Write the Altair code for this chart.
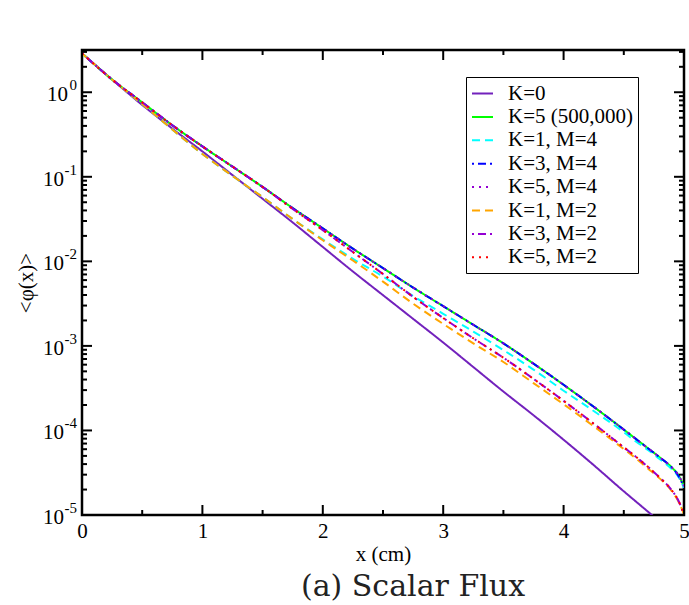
import altair as alt
import pandas as pd

# Distance through the slab (cm)
x_cm = [0, 0.25, 0.5, 0.75, 1.0, 1.25, 1.5, 1.75, 2.0, 2.25, 2.5, 2.75,
        3.0, 3.25, 3.5, 3.75, 4.0, 4.25, 4.5, 4.6, 4.7, 4.8, 4.9, 4.95, 5.0]

# log10 of the ensemble-averaged scalar flux for each closure
log_phi_k0 = [0.46, 0.15, -0.15, -0.43, -0.70, -0.98, -1.26, -1.54, -1.83, -2.12,
              -2.40, -2.68, -2.96, -3.25, -3.54, -3.82, -4.11, -4.41, -4.72, -4.84,
              -4.96, -5.08, -5.20, -5.26, -5.32]
log_phi_k5_ref = [0.46, 0.15, -0.12, -0.39, -0.64, -0.88, -1.12, -1.37, -1.61, -1.85,
                  -2.08, -2.31, -2.53, -2.75, -2.97, -3.21, -3.46, -3.72, -3.99, -4.10,
                  -4.21, -4.32, -4.44, -4.52, -4.66]
log_phi_k1_m4 = [0.46, 0.15, -0.14, -0.44, -0.73, -0.99, -1.24, -1.50, -1.74, -1.97,
                 -2.18, -2.41, -2.62, -2.83, -3.05, -3.28, -3.53, -3.77, -4.02, -4.13,
                 -4.23, -4.34, -4.46, -4.54, -4.68]
log_phi_k3_m4 = [0.46, 0.15, -0.12, -0.39, -0.64, -0.88, -1.12, -1.37, -1.61, -1.85,
                 -2.08, -2.31, -2.53, -2.75, -2.97, -3.21, -3.46, -3.72, -3.99, -4.10,
                 -4.21, -4.32, -4.44, -4.53, -4.67]
log_phi_k5_m4 = [0.46, 0.15, -0.12, -0.39, -0.64, -0.88, -1.12, -1.37, -1.61, -1.85,
                 -2.08, -2.31, -2.53, -2.75, -2.97, -3.21, -3.46, -3.72, -3.99, -4.10,
                 -4.21, -4.32, -4.44, -4.52, -4.66]
log_phi_k1_m2 = [0.46, 0.15, -0.14, -0.44, -0.73, -0.99, -1.24, -1.50, -1.75, -1.99,
                 -2.24, -2.50, -2.74, -2.97, -3.19, -3.44, -3.69, -3.95, -4.22, -4.33,
                 -4.45, -4.57, -4.72, -4.83, -4.99]
log_phi_k3_m2 = [0.46, 0.15, -0.12, -0.39, -0.64, -0.88, -1.12, -1.38, -1.63, -1.89,
                 -2.15, -2.42, -2.67, -2.91, -3.14, -3.39, -3.65, -3.92, -4.20, -4.31,
                 -4.43, -4.56, -4.71, -4.82, -4.99]
log_phi_k5_m2 = [0.46, 0.15, -0.12, -0.39, -0.64, -0.88, -1.12, -1.38, -1.63, -1.89,
                 -2.15, -2.42, -2.67, -2.91, -3.14, -3.39, -3.65, -3.92, -4.20, -4.31,
                 -4.43, -4.56, -4.71, -4.82, -4.99]

series_names = ["K=0", "K=5 (500,000)", "K=1, M=4", "K=3, M=4",
                "K=5, M=4", "K=1, M=2", "K=3, M=2", "K=5, M=2"]
series_logs = [log_phi_k0, log_phi_k5_ref, log_phi_k1_m4, log_phi_k3_m4,
               log_phi_k5_m4, log_phi_k1_m2, log_phi_k3_m2, log_phi_k5_m2]
series_colors = ["#7221bc", "#00ff00", "#00ffff", "#0000ff",
                 "#9400d3", "#ffa500", "#9400d3", "#ff0000"]
series_dashes = [[1, 0], [1, 0], [8, 5], [2, 4, 8, 4],
                 [2, 5], [8, 5], [2, 4, 8, 4], [2, 5]]

# Axis ticks
x_major = [0, 1, 2, 3, 4, 5]
x_minor = [0.5, 1.5, 2.5, 3.5, 4.5]
y_major = [1e-5, 1e-4, 1e-3, 1e-2, 1e-1, 1]
y_exponents = ["-5", "-4", "-3", "-2", "-1", "0"]
y_minor = [m * d for d in [1e-5, 1e-4, 1e-3, 1e-2, 1e-1] for m in range(2, 10)] + [2, 3]

rows = []
for name, logs in zip(series_names, series_logs):
    for xv, lv in zip(x_cm, logs):
        rows.append({"series": name, "x": xv, "phi": 10.0 ** lv})
df = pd.DataFrame(rows)

W, H = 602, 465
SERIF = "Liberation Serif"
TITLE_FONT = "DejaVu Serif"
xs = alt.Scale(domain=[0, 5], nice=False, zero=False)
ys = alt.Scale(type="log", domain=[1e-5, 3.16], nice=False)

x_axis = alt.Axis(values=x_major, ticks=False, domain=False, grid=False,
                  labelFont=SERIF, labelFontSize=21, labelColor="black",
                  labelPadding=5, labelFlush=False,
                  title="x (cm)", titleFont=SERIF, titleFontSize=21,
                  titleFontWeight="normal", titleColor="black", titlePadding=2)
y_axis = alt.Axis(labels=False, ticks=False, domain=False, grid=False,
                  title="<φ(x)>", titleFont=SERIF, titleFontSize=21,
                  titleFontWeight="normal", titleColor="black", titlePadding=46)

legend = alt.Legend(
    title=None, orient="none", legendX=384, legendY=27,
    strokeColor="black", fillColor="white", padding=5,
    symbolType="stroke", symbolSize=441, symbolStrokeWidth=2,
    labelFont=SERIF, labelFontSize=21, labelColor="black",
    labelOffset=14, rowPadding=1.4, labelLimit=300,
)

lines = alt.Chart(df).mark_line(clip=True, strokeWidth=2, interpolate="monotone").encode(
    x=alt.X("x:Q", scale=xs, axis=x_axis),
    y=alt.Y("phi:Q", scale=ys, axis=y_axis),
    color=alt.Color("series:N", scale=alt.Scale(domain=series_names, range=series_colors),
                    legend=legend),
    strokeDash=alt.StrokeDash("series:N",
                              scale=alt.Scale(domain=series_names, range=series_dashes),
                              legend=legend),
)

# Inward ticks on all four sides
xmaj = pd.DataFrame({"v": x_major})
xmin = pd.DataFrame({"v": x_minor})
ymaj = pd.DataFrame({"v": y_major, "exp": y_exponents})
ymin = pd.DataFrame({"v": y_minor})

xe = alt.X("v:Q", scale=xs, axis=x_axis)
ye = alt.Y("v:Q", scale=ys, axis=y_axis)


def xticks(data, length):
    base = alt.Chart(data).mark_rule(stroke="#000000", strokeWidth=2, opacity=1)
    return [base.encode(x=xe, y=alt.value(H), y2=alt.value(H - length)),
            base.encode(x=xe, y=alt.value(0), y2=alt.value(length))]


def yticks(data, length):
    base = alt.Chart(data).mark_rule(stroke="#000000", strokeWidth=2, opacity=1)
    return [base.encode(y=ye, x=alt.value(0), x2=alt.value(length)),
            base.encode(y=ye, x=alt.value(W), x2=alt.value(W - length))]


ticks = xticks(xmaj, 10) + xticks(xmin, 5) + yticks(ymaj, 10) + yticks(ymin, 5)

# Decade labels: "10" with a raised exponent
exp_text = alt.Chart(ymaj).mark_text(
    align="right", baseline="middle", font=SERIF, fontSize=15, dy=-7, color="black"
).encode(y=ye, x=alt.value(-5), text="exp:N")
ten_unit = alt.Chart(ymaj).transform_filter("datum.v == 1").mark_text(
    text="10", align="right", baseline="middle", font=SERIF, fontSize=21, dy=3, color="black"
).encode(y=ye, x=alt.value(-14))
ten_neg = alt.Chart(ymaj).transform_filter("datum.v < 1").mark_text(
    text="10", align="right", baseline="middle", font=SERIF, fontSize=21, dy=3, color="black"
).encode(y=ye, x=alt.value(-18))

chart = alt.layer(lines, *ticks, exp_text, ten_unit, ten_neg).properties(
    width=W, height=H,
    view=alt.ViewBackground(stroke="#000000", strokeWidth=2.5, fill="white"),
    autosize=alt.AutoSizeParams(type="none"),
    padding={"left": 82, "top": 50, "right": 5, "bottom": 90},
    title=alt.Title("(a) Scalar Flux", orient="bottom", anchor="middle", dx=30, offset=8,
                    font=TITLE_FONT, fontSize=30, fontWeight="normal", color="#222222"),
).configure(background="white").configure_view(stroke="#000000", strokeWidth=2.5)

chart.save("out.html", embed_options={"renderer": "svg", "actions": False})
